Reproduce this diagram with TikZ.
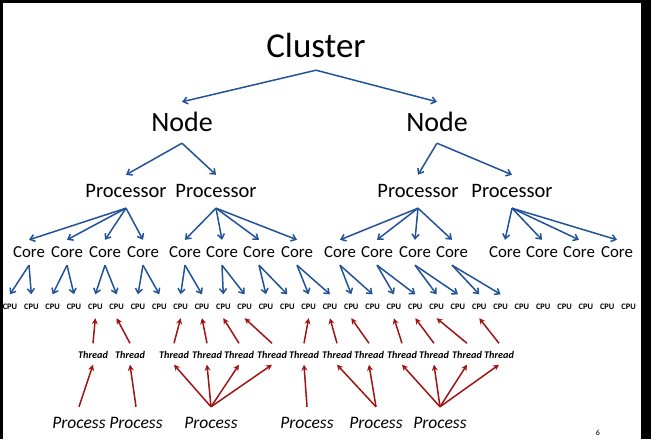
\documentclass[tikz,border=0pt]{standalone}
\usepackage{fontspec}
\setmainfont{Carlito}
\usetikzlibrary{arrows.meta}
\definecolor{linkblue}{RGB}{34,82,152}
\definecolor{linkred}{RGB}{160,20,20}
\begin{document}
\begin{tikzpicture}[x=1pt,y=-1pt,
  lbl/.style={anchor=base,inner xsep=0pt,text depth=0pt},
  cluster/.style={lbl,font=\fontsize{35}{35}\selectfont,text height=22pt,inner ysep=12pt},
  machine/.style={lbl,font=\fontsize{28}{28}\selectfont,text height=19pt,inner ysep=11pt},
  proc/.style={lbl,font=\fontsize{20.5}{20.5}\selectfont,text height=13pt,inner ysep=10pt},
  core/.style={lbl,font=\fontsize{16.8}{16.8}\selectfont,text height=11pt,inner ysep=7pt},
  cpu/.style={lbl,font=\bfseries\fontsize{8.4}{8.4}\selectfont,text height=5.5pt,inner ysep=9pt},
  thread/.style={lbl,font=\bfseries\itshape\fontsize{10.2}{10.2}\selectfont,text height=8pt,inner ysep=6.5pt},
  process/.style={lbl,font=\itshape\fontsize{17.5}{17.5}\selectfont,text height=13pt,inner ysep=8pt},
  partof/.style={draw=linkblue,line width=1.5pt,-{Straight Barb[length=4.5pt,width=7pt]}},
  runson/.style={draw=linkred,line width=1.5pt,-{Stealth[length=6pt,width=6pt]}}]
\fill[black] (0,0) rectangle (651,439);
\fill[white] (3,3) rectangle (641,439);
\node[cluster] (cluster) at (316,58) {Cluster};
\node[machine] (node1) at (182,132) {Node};
\node[machine] (node2) at (437,132) {Node};
\node[proc] (proc1) at (126,198) {Processor};
\node[proc] (proc2) at (216,198) {Processor};
\node[proc] (proc3) at (418,198) {Processor};
\node[proc] (proc4) at (512,198) {Processor};
\foreach \x [count=\i] in {29,67,105,143,185,222,259,297,340,377,415,452,505,542,579,617}
  \node[core] (core\i) at (\x,258) {Core};
\foreach \i in {1,...,30}
  \node[cpu] (cpu\i) at ({10+21.33*(\i-1)},309) {CPU};
\foreach \x [count=\i] in {93,130,174,207,239,272,304,337,369,402,434,467,499}
  \node[thread] (thread\i) at (\x,358) {Thread};
\foreach \x [count=\i] in {79,136,211,307,376,440}
  \node[process] (process\i) at (\x,428) {Process};
\node[font=\fontsize{8}{8}\selectfont] (page) at (598,433) {6};
\foreach \a/\b in {cluster/node1,cluster/node2,node1/proc1,node1/proc2,node2/proc3,node2/proc4}
  \draw[partof] (\a.south) -- (\b.north);
\foreach \p in {1,...,4}
  \foreach \c in {1,...,4}{
    \pgfmathtruncatemacro\k{4*(\p-1)+\c}
    \draw[partof] (proc\p.south) -- (core\k.north);
  }
\foreach \c in {1,...,12}{
  \pgfmathtruncatemacro\k{2*\c-1}
  \pgfmathtruncatemacro\m{2*\c}
  \draw[partof] (core\c.south) -- (cpu\k.north);
  \draw[partof] (core\c.south) -- (cpu\m.north);
}
\foreach \t/\c in {1/5,2/6,3/9,4/10,5/11,6/12,7/15,8/16,9/17,10/19,11/20,12/21,13/23}
  \draw[runson] (thread\t.north) -- (cpu\c.south);
\foreach \p/\t in {1/1,2/2,3/3,3/4,3/5,3/6,4/7,5/8,5/9,6/10,6/11,6/12,6/13}
  \draw[runson] (process\p.north) -- (thread\t.south);
\end{tikzpicture}
\end{document}
